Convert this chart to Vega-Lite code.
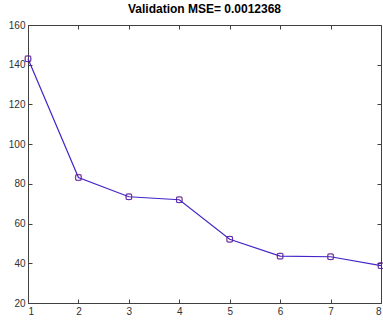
{
  "$schema": "https://vega.github.io/schema/vega-lite/v6.json",
  "width": 353,
  "height": 278,
  "autosize": {"type": "none"},
  "padding": {"left": 28, "top": 25, "right": 2, "bottom": 18},
  "background": "white",
  "title": {"text": "Validation MSE= 0.0012368", "fontSize": 12, "font": "Liberation Sans", "fontWeight": "bold", "color": "#000000", "offset": 4},
  "config": {
    "view": {"stroke": "#404040", "strokeWidth": 1},
    "axis": {"grid": false, "domainColor": "#404040", "tickColor": "#404040", "labelColor": "#303030", "labelFont": "Liberation Sans", "labelFontSize": 10, "title": null, "tickSize": -4, "labelPadding": 7}
  },
  "data": {"values": [
    {"epoch": 1, "mse": 143},
    {"epoch": 2, "mse": 83.2},
    {"epoch": 3, "mse": 73.5},
    {"epoch": 4, "mse": 72},
    {"epoch": 5, "mse": 52.1},
    {"epoch": 6, "mse": 43.6},
    {"epoch": 7, "mse": 43.3},
    {"epoch": 8, "mse": 38.8}
  ]},
  "encoding": {
    "x": {"field": "epoch", "type": "quantitative", "scale": {"domain": [1, 8], "nice": false, "zero": false}},
    "y": {"field": "mse", "type": "quantitative", "scale": {"domain": [20, 160], "nice": false, "zero": false}}
  },
  "layer": [
    {
      "mark": {"type": "line", "color": "#4424c8", "strokeWidth": 1.2},
      "encoding": {
        "x": {"field": "epoch", "type": "quantitative", "axis": {"orient": "bottom", "values": [1,2,3,4,5,6,7,8]}},
        "y": {"field": "mse", "type": "quantitative", "axis": {"orient": "left", "values": [20,40,60,80,100,120,140,160]}}
      }
    },
    {
      "mark": {"type": "point", "shape": "circle", "color": "#e03030", "size": 40, "strokeWidth": 1, "filled": false},
      "encoding": {
        "x": {"field": "epoch", "type": "quantitative", "axis": {"orient": "top", "values": [1,2,3,4,5,6,7,8], "labels": false, "domain": false}},
        "y": {"field": "mse", "type": "quantitative", "axis": {"orient": "right", "values": [20,40,60,80,100,120,140,160], "labels": false, "domain": false}}
      }
    },
    {
      "mark": {"type": "point", "shape": "square", "color": "#2010c0", "size": 30, "strokeWidth": 1, "filled": false},
      "encoding": {
        "x": {"field": "epoch", "type": "quantitative", "axis": null},
        "y": {"field": "mse", "type": "quantitative", "axis": null}
      }
    }
  ],
  "resolve": {"axis": {"x": "independent", "y": "independent"}}
}
